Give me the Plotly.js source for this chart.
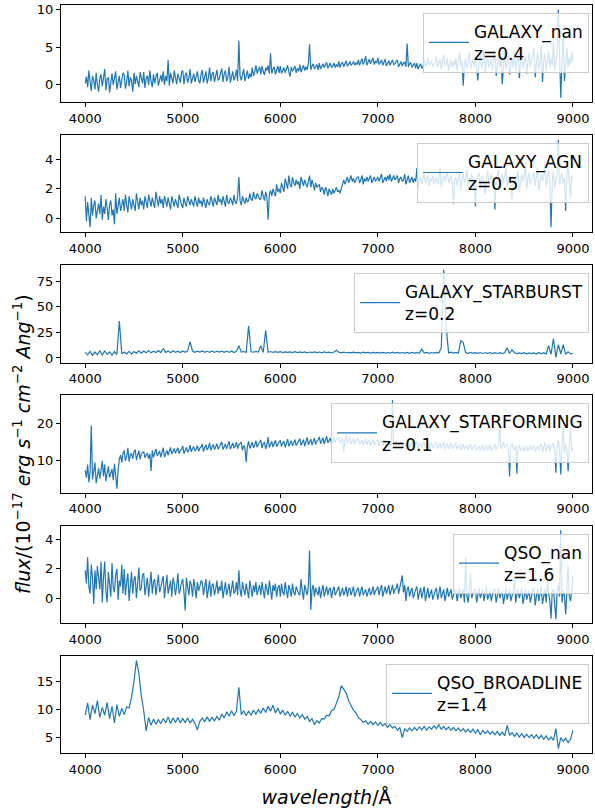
<!DOCTYPE html>
<html>
<head>
<meta charset="utf-8">
<script src="https://cdn.plot.ly/plotly-3.0.1.min.js"></script>
<style>html,body{margin:0;padding:0;background:#fff;}#chart{width:595px;height:808px;}</style>
</head>
<body>
<div id="chart"></div>
<script>
// wavelength grids (Angstrom): start and sampling step of each spectrum
const WL_START = 4000;
const wlSteps = [12.5, 12.5, 25, 12.5, 12.5, 25];
const xTickVals = [4000, 5000, 6000, 7000, 8000, 9000];

const classes = ["GALAXY_nan", "GALAXY_AGN", "GALAXY_STARBURST", "GALAXY_STARFORMING", "QSO_nan", "QSO_BROADLINE"];
const redshifts = ["0.4", "0.5", "0.2", "0.1", "1.6", "1.4"];

const galaxyNan = [
  0.2, 1.1, -0.3, 1.9, 0.4, -0.8, 1.2, 0.6, -0.6, 1.6, 0.0, -0.9, 0.9, 1.4, -0.2, 0.7,
  2.1, -0.7, 0.8, 1.0, -1.0, 0.3, 1.5, 0.0, 1.1, 1.8, -0.6, 0.5, 1.2, -0.4, 0.9, 1.6,
  1.3, -0.5, 0.4, 1.9, -0.2, 1.0, 0.6, -0.9, 1.6, 0.1, 1.2, 0.5, -0.3, 1.7, 0.8, 0.2,
  1.7, -0.4, 0.9, 1.2, 0.0, 1.9, 0.5, -0.3, 1.4, 0.2, 1.1, 1.6, -0.1, 0.8, 1.3, 0.4,
  1.8, 0.0, 1.2, 0.5, 3.3, -0.1, 1.6, 0.9, 0.2, 1.9, 0.6, 0.1, 1.5, 1.0, 0.3, 1.7,
  1.9, 0.1, 1.3, 1.6, 0.3, 0.9, 2.1, 0.2, 1.0, 1.5, 0.4, 1.2, 1.8, 0.6, 0.2, 1.4,
  2.0, 0.3, 1.2, 1.8, 0.2, 0.9, 2.3, 0.5, 1.4, 1.7, 0.4, 1.1, 2.0, 0.6, 0.8, 1.6,
  2.2, 0.4, 1.5, 1.9, 0.5, 1.0, 2.4, 0.3, 1.3, 1.8, 0.6, 1.1, 2.0, 0.5, 5.9, 1.2,
  0.6, 1.6, 2.1, 0.5, 1.3, 1.9, 0.8, 1.5, 1.0, 2.3, 1.2, 1.7, 2.6, 1.5, 2.0, 2.4,
  1.4, 2.5, 1.8, 1.3, 2.3, 1.9, 2.6, 1.5, 4.2, 1.5, 2.1, 2.4, 1.4, 1.9, 2.5, 1.6,
  2.5, 1.5, 2.0, 2.3, 1.6, 2.2, 2.6, 1.7, 1.1, 2.4, 1.8, 2.1, 2.5, 1.6, 2.2, 1.8,
  2.7, 1.7, 2.3, 2.6, 1.9, 2.4, 2.0, 2.8, 5.4, 2.0, 2.5, 2.8, 2.1, 2.4, 2.7, 2.0,
  2.9, 2.1, 2.6, 2.8, 2.3, 2.7, 3.0, 2.2, 2.6, 2.9, 2.3, 2.5, 2.9, 2.3, 2.7, 2.4,
  3.1, 2.3, 2.8, 3.0, 2.4, 2.9, 3.2, 2.5, 2.7, 3.1, 2.6, 2.8, 3.1, 2.6, 2.9, 2.7,
  3.3, 2.6, 3.0, 3.5, 2.7, 3.1, 3.8, 2.6, 3.0, 3.4, 2.8, 3.2, 3.6, 2.7, 3.1, 2.9,
  3.6, 2.7, 3.1, 3.3, 2.6, 3.0, 3.4, 2.5, 2.9, 3.2, 2.6, 3.0, 3.3, 2.7, 2.8, 3.1,
  3.3, 2.4, 2.8, 3.1, 2.5, 2.9, 3.0, 2.4, 5.5, 2.4, 2.8, 3.0, 2.3, 2.7, 2.9, 2.2,
  2.9, 2.1, 2.5, 2.8, 2.2, 2.4, 3.3, 2.5, 2.7, 3.6, 2.6, 2.9, 3.2, 2.4, 2.8, 3.0,
  3.8, 2.4, 2.9, 3.4, 2.2, 3.0, 4.0, 2.6, 2.8, 3.5, 1.9, 2.7, 3.3, 2.3, 3.1, 2.6,
  3.6, 1.8, 3.0, 4.3, 2.5, 3.2, -0.1, 2.9, 3.5, 2.2, 3.0, 4.4, 2.1, 2.8, 3.4, 2.4,
  3.7, 2.3, 0.6, 3.1, 4.0, 2.2, 2.9, 4.6, 1.6, 3.0, 3.8, 2.3, 2.7, 3.5, 2.0, 3.2,
  4.3, 1.2, 3.0, 3.7, 2.4, 3.3, 0.1, 2.9, 4.4, 2.1, 3.1, 3.9, 1.4, 2.8, 3.6, 2.2,
  4.6, 1.9, 3.2, 4.2, 0.9, 3.0, 5.0, 2.2, 3.4, 3.9, 1.5, 2.9, 4.3, 2.4, 3.1, 3.7,
  4.8, 1.0, 3.3, 4.4, 2.1, 3.0, 5.2, 0.4, 3.2, 4.1, 1.8, 2.9, 4.5, 2.3, 3.5, 2.6,
  5.8, 2.0, 3.4, 4.0, 10.0, 2.5, -1.7, 3.1, 6.7, 0.5, 3.3, 4.9, 2.3, 3.6, 2.7, 4.4,
  3.0
];

const galaxyAgn = [
  1.5, -0.2, 1.1, 0.4, -0.6, 1.4, 0.2, 0.9, 1.2, 0.0, 0.6, 1.0, 0.3, 1.6, -0.1, 0.8,
  0.3, 1.3, 0.7, -0.1, 0.9, 1.2, 0.2, 0.6, -0.4, 1.7, 0.3, 1.0, 1.4, 0.5, 0.9, 1.3,
  0.5, 1.6, 0.9, 0.4, 1.5, 1.1, 0.6, 1.3, 0.8, 0.5, 1.7, 1.0, 0.6, 1.4, 0.9, 1.2,
  0.6, 1.5, 1.0, 0.7, 1.6, 1.2, 0.8, 1.4, 0.9, 0.7, 1.8, 1.1, 0.8, 1.5, 1.0, 1.3,
  0.7, 1.5, 1.1, 0.8, 1.4, 1.0, 0.6, 1.5, 1.2, 0.8, 1.3, 1.0, 0.7, 1.6, 1.1, 0.9,
  0.7, 1.4, 1.0, 0.8, 1.5, 1.1, 0.9, 1.3, 1.0, 0.8, 1.5, 1.2, 0.8, 1.4, 1.0, 1.2,
  0.8, 1.4, 1.1, 0.7, 1.3, 1.0, 0.9, 1.5, 1.2, 0.8, 1.4, 1.1, 0.9, 1.6, 1.1, 1.3,
  0.9, 1.5, 1.2, 0.8, 1.6, 1.1, 1.0, 1.4, 1.2, 0.9, 1.6, 1.1, 1.0, 1.5, 2.8, 1.2,
  0.9, 1.5, 1.2, 1.0, 1.4, 1.1, 1.2, 1.7, 1.3, 1.2, 1.8, 1.4, 1.3, 1.7, 1.5, 1.3,
  1.3, 1.9, 1.5, 1.2, 1.8, 1.4, -0.1, 1.6, 1.9, 1.5, 2.0, 1.7, 1.5, 2.3, 1.8, 2.0,
  1.7, 2.4, 2.0, 1.8, 2.7, 2.2, 2.0, 2.9, 2.3, 2.1, 2.8, 2.4, 2.2, 2.6, 2.3, 2.5,
  2.0, 2.8, 2.4, 2.2, 2.6, 2.3, 2.1, 2.5, 2.9, 2.1, 2.6, 2.3, 1.9, 2.4, 2.1, 2.2,
  2.3, 1.8, 2.1, 2.0, 1.6, 2.1, 1.9, 1.5, 2.0, 1.8, 1.6, 2.0, 1.7, 1.9, 2.1, 1.8,
  1.9, 1.7, 2.0, 2.3, 2.6, 2.3, 2.5, 2.8, 2.4, 2.6, 2.9, 2.5, 2.7, 2.4, 2.6, 2.8,
  2.8, 2.4, 2.6, 2.9, 2.3, 2.7, 2.5, 2.8, 2.5, 2.7, 2.9, 2.4, 2.6, 2.8, 2.5, 2.7,
  2.8, 2.5, 2.7, 3.0, 2.4, 2.6, 2.8, 2.5, 2.9, 2.6, 3.0, 2.5, 2.7, 2.9, 2.6, 2.8,
  2.9, 2.4, 2.7, 2.8, 2.5, 2.6, 3.0, 2.3, 2.7, 2.9, 2.4, 2.6, 2.8, 2.4, 2.7, 2.5,
  3.4, 2.0, 2.6, 2.8, 2.3, 2.7, 3.0, 2.4, 2.6, 2.9, 2.2, 2.7, 2.5, 2.9, 2.3, 2.6,
  2.8, 2.3, 2.7, 3.4, 2.1, 2.6, 2.9, 2.5, 2.8, 3.1, 2.4, 2.7, 2.9, 2.3, 1.0, 2.6,
  2.8, 2.2, 2.6, 3.2, 1.9, 2.7, 3.0, 2.4, 2.6, 3.3, 2.1, 2.8, 2.5, 3.0, 2.2, 2.7,
  0.8, 2.6, 2.9, 3.1, 2.0, 2.7, 2.9, 2.3, 1.6, 2.8, 3.2, 2.3, 2.6, 3.0, 2.2, 2.7,
  0.6, 2.7, 3.0, 3.3, 2.1, 2.6, 3.0, 2.4, 2.8, 3.4, 2.2, 2.7, 2.9, 2.3, 1.3, 2.6,
  2.9, 2.2, 2.7, 3.2, 1.8, 2.6, 3.0, 2.5, 2.8, 3.6, 2.0, 2.7, 3.1, 2.3, 2.6, 2.9,
  3.1, 2.2, 2.7, 3.4, 1.9, 2.6, 3.0, 2.5, 2.8, 3.8, 2.1, 2.7, 3.2, 2.4, -0.6, 2.6,
  3.2, 2.1, 2.7, 3.0, 5.3, 2.3, 2.8, 3.1, 2.4, 2.7, 0.5, 3.0, 3.5, 2.2, 1.4, 2.9,
  2.8
];

const galaxyStarburst = [
  5.5, 3.0, 6.5, 2.5, 5.8, 3.2, 7.0, 2.8,
  6.8, 3.5, 5.9, 2.6, 6.2, 3.4, 36.0, 4.0,
  5.8, 4.0, 6.5, 3.8, 6.2, 4.5, 7.0, 4.6,
  6.8, 5.2, 7.2, 5.0, 6.6, 5.4, 7.3, 5.3,
  9.0, 5.5, 6.8, 5.2, 7.0, 5.6, 6.7, 5.4,
  6.9, 5.6, 7.0, 16.0, 6.8, 5.5, 6.6, 5.7,
  6.9, 5.5, 6.5, 5.6, 6.8, 5.4, 6.6, 5.8,
  6.7, 5.5, 6.5, 5.6, 6.8, 5.3, 6.4, 12.0,
  5.8, 6.3, 5.5, 31.0, 6.0, 5.6, 6.4, 5.7,
  12.0, 5.5, 27.0, 5.6, 6.3, 5.4, 6.2, 5.5,
  6.1, 5.3, 6.0, 5.4, 5.9, 5.2, 6.1, 5.3,
  5.9, 5.2, 6.0, 5.1, 5.8, 5.3, 5.9, 5.2,
  5.8, 5.0, 5.9, 5.2, 5.7, 5.0, 5.8, 7.5,
  5.6, 5.0, 5.7, 5.1, 5.5, 4.9, 5.6, 5.0,
  5.5, 4.8, 5.6, 4.9, 5.4, 4.8, 5.5, 4.9,
  5.4, 4.7, 5.5, 4.8, 5.3, 4.7, 5.6, 4.8,
  5.4, 4.7, 5.3, 4.8, 5.5, 4.6, 5.4, 4.8,
  5.3, 4.6, 8.5, 4.7, 5.4, 4.6, 5.3, 4.7,
  5.5, 4.8, 10.0, 86.0, 31.0, 4.9, 5.6, 4.7,
  5.5, 4.6, 17.0, 15.0, 5.2, 4.6, 5.4, 4.5,
  5.2, 4.5, 5.3, 4.4, 5.1, 4.5, 5.3, 4.3,
  5.1, 4.4, 5.2, 4.3, 5.0, 10.0, 4.4, 8.0,
  5.1, 4.2, 5.0, 4.3, 5.2, 4.1, 5.0, 4.2,
  4.9, 3.9, 5.4, 4.0, 5.1, 3.8, 12.0, 3.5,
  19.0, 0.5, 13.0, 3.9, 13.0, 3.6, 6.0, 4.0,
  4.6
];

const galaxyStarforming = [
  7.5, 5.5, 9.0, 4.2, 6.8, 19.5, 5.0, 8.2, 9.5, 4.0, 6.5, 8.0, 5.2, 7.4, 10.0, 5.8,
  9.0, 4.5, 7.2, 8.5, 5.5, 6.9, 7.8, 4.8, 9.2, 6.0, 2.5, 7.5, 10.5, 11.5, 9.5, 12.0,
  12.8, 10.0, 11.2, 13.5, 9.8, 11.6, 12.0, 10.5, 12.4, 13.0, 10.2, 11.5, 12.7, 10.4, 11.9, 12.2,
  12.5, 10.8, 11.7, 12.0, 10.6, 11.9, 7.3, 12.8, 10.9, 12.1, 13.2, 11.3, 12.0, 12.6, 11.0, 12.4,
  13.5, 11.0, 12.3, 12.8, 11.5, 12.6, 13.6, 11.8, 12.4, 13.3, 12.0, 12.7, 13.5, 11.9, 12.8, 13.1,
  14.0, 11.9, 13.0, 13.6, 12.3, 12.9, 14.2, 12.4, 13.3, 13.8, 12.6, 13.1, 14.1, 12.5, 13.4, 13.7,
  14.5, 12.5, 13.6, 14.3, 12.9, 13.5, 14.8, 12.8, 13.7, 14.4, 13.0, 13.6, 14.6, 13.1, 13.9, 14.2,
  15.1, 13.0, 14.0, 14.5, 13.2, 14.1, 15.3, 13.1, 14.2, 14.8, 13.4, 13.9, 15.0, 13.3, 14.3, 14.6,
  15.0, 12.8, 14.1, 13.6, 9.6, 13.9, 15.2, 13.3, 14.4, 15.0, 13.5, 14.2, 15.4, 13.6, 14.5, 14.9,
  15.6, 13.4, 14.6, 15.0, 13.2, 14.3, 16.4, 13.6, 14.7, 15.2, 13.7, 14.4, 15.5, 13.8, 14.6, 15.1,
  15.5, 13.8, 14.8, 15.2, 13.6, 14.6, 15.8, 13.9, 14.9, 15.4, 14.0, 14.7, 15.7, 14.1, 14.9, 15.3,
  16.0, 14.1, 15.0, 15.7, 13.9, 15.1, 16.3, 14.3, 15.2, 15.8, 14.2, 15.0, 16.1, 14.4, 15.3, 15.6,
  16.4, 14.6, 15.5, 16.2, 14.5, 15.4, 16.6, 14.8, 15.7, 16.1, 14.6, 15.5, 16.5, 14.9, 15.8, 16.0,
  16.3, 14.7, 15.6, 15.9, 12.5, 15.2, 16.9, 14.6, 15.5, 16.2, 14.5, 15.3, 16.0, 14.6, 15.4, 15.8,
  15.8, 14.4, 15.1, 15.6, 14.2, 15.0, 15.9, 14.3, 15.2, 15.5, 14.1, 14.9, 15.8, 14.2, 15.0, 15.4,
  15.7, 14.0, 14.9, 15.3, 14.1, 14.8, 15.6, 13.8, 14.7, 15.2, 13.9, 14.6, 26.3, 13.9, 14.8, 15.1,
  15.2, 13.9, 14.6, 15.3, 13.7, 14.5, 15.0, 13.6, 14.4, 15.4, 13.5, 14.3, 15.1, 13.6, 14.5, 14.9,
  15.1, 13.4, 14.3, 14.9, 13.6, 14.2, 15.2, 13.5, 14.4, 14.8, 13.3, 14.1, 15.0, 13.4, 14.2, 14.7,
  14.9, 13.2, 14.1, 14.7, 13.4, 14.0, 15.0, 13.1, 14.2, 14.6, 13.2, 13.9, 14.8, 13.2, 14.0, 14.5,
  14.6, 13.0, 13.9, 14.4, 12.8, 13.7, 14.5, 13.1, 13.8, 14.3, 12.9, 13.6, 14.5, 12.9, 13.8, 14.2,
  14.2, 12.8, 13.5, 14.0, 12.9, 13.6, 14.4, 12.6, 13.4, 14.1, 12.8, 13.5, 14.3, 12.7, 13.6, 14.0,
  14.5, 13.0, 13.8, 14.1, 20.0, 13.2, 14.2, 15.0, 13.4, 14.0, 14.6, 13.1, 5.8, 14.2, 14.6, 13.3,
  13.0, 14.0, 6.5, 13.6, 14.2, 12.7, 13.5, 13.8, 12.5, 13.4, 14.0, 12.6, 13.5, 14.1, 12.8, 13.7,
  14.3, 12.4, 13.4, 14.0, 12.8, 13.6, 14.6, 12.3, 13.5, 15.0, 12.5, 13.8, 14.5, 12.6, 13.9, 14.3,
  14.8, 12.9, 6.8, 14.0, 15.5, 13.0, 6.3, 14.2, 19.0, 12.0, 14.5, 13.3, 7.2, 14.0, 18.7, 12.6,
  13.5
];

const qsoNan = [
  1.9, 1.0, 2.8, 0.8, 0.3, 2.3, 1.4, -0.4, 1.9, 0.6, 2.2, 1.1, 0.6, 2.5, -0.3, 1.4,
  2.5, 0.5, -0.3, 1.8, 1.0, 0.1, 2.4, 0.7, 0.4, 1.6, 2.0, -0.1, 1.2, 0.8, 2.3, 0.3,
  2.0, 0.2, 1.1, 1.7, -0.2, 0.9, 1.8, 0.3, 1.3, 1.5, 0.0, 1.0, 2.1, 0.5, 0.7, 1.6,
  1.7, 0.2, 1.0, 1.4, 0.1, 0.8, 1.8, 0.3, 1.1, 1.3, 0.2, 0.9, 1.6, 0.4, 0.7, 1.2,
  1.5, 0.0, 0.9, 1.6, 0.3, 0.7, 1.2, 0.1, 1.4, 1.0, 0.2, 0.8, 1.7, 0.3, 0.6, 1.1,
  1.3, 0.4, -0.85, 1.4, 0.6, 0.2, 1.2, 0.9, 0.1, 1.3, 0.7, 0.0, 1.1, 0.5, 0.8, 1.2,
  1.1, 0.2, 0.8, 1.3, 0.0, 0.7, 1.2, 0.1, 0.9, 1.0, 0.2, 0.6, 1.2, 0.3, 0.8, 0.5,
  1.2, 0.0, 0.7, 1.1, 0.2, 0.6, 1.0, 0.1, 0.8, 1.2, 0.3, 0.5, 1.1, 0.2, 1.9, 0.6,
  0.1, 1.1, 0.6, 0.2, 1.0, 0.5, 0.0, 1.2, 0.7, 0.1, 0.9, 0.4, 1.1, 0.2, 0.6, 0.9,
  0.2, 1.1, 0.5, 0.0, 1.0, 0.6, 0.2, 1.2, 0.4, -0.1, 0.9, 0.5, 1.0, 0.1, 0.7, 0.9,
  0.1, 1.0, 0.4, 0.2, 1.1, 0.5, 0.0, 0.9, 0.6, 0.1, 1.0, 0.4, 0.2, 0.8, 0.5, 0.3,
  0.2, 1.3, 0.5, -0.1, 0.9, 0.4, 0.2, 0.8, 3.25, -0.8, 0.6, 0.9, 0.1, 0.7, 0.4, 0.2,
  0.8, 0.0, 0.5, 0.9, 0.1, 0.4, 0.8, 0.2, 0.6, 0.7, 0.0, 0.5, 0.8, 0.2, 0.4, 0.6,
  0.8, 0.1, 0.5, 0.7, 0.2, 0.4, 0.8, 0.1, 0.6, 0.7, 0.2, 0.5, 0.8, 0.1, 0.4, 0.6,
  0.7, 0.1, 0.5, 0.8, 0.2, 0.4, 0.6, 0.1, 0.5, 0.7, 0.2, 0.4, 0.8, 0.2, 0.5, 0.6,
  0.8, 0.2, 0.6, 0.9, 0.1, 0.5, 0.8, 0.3, 0.6, 0.9, 0.2, 0.5, 0.9, 0.3, 0.6, 0.7,
  1.0, 0.3, 0.7, 1.2, 1.55, 0.4, 0.9, -0.2, 0.6, 0.8, 0.1, 0.5, 0.7, 0.0, 0.4, 0.6,
  0.8, -0.1, 0.4, 0.7, 0.0, 0.5, 0.8, -0.2, 0.3, 0.7, 0.0, 0.4, 0.6, -0.1, 0.3, 0.5,
  0.7, -0.1, 0.3, 0.8, 0.0, 0.4, 0.6, -0.2, 0.3, 0.7, 0.1, 0.4, 0.6, -0.1, 0.3, 0.5,
  0.6, -0.2, 0.3, 0.7, 0.0, 0.4, 0.6, -0.3, 2.8, 0.2, -0.3, 0.5, 1.7, 0.0, 0.3, 0.6,
  0.6, -0.3, 0.2, 0.7, 0.0, 0.3, 0.6, -0.2, 0.2, 0.8, -0.1, 0.3, 0.5, -0.2, 0.2, 0.6,
  0.6, -0.3, 0.2, 0.7, 0.0, 0.3, 0.5, -0.4, 0.2, 0.7, -0.1, 0.3, 0.6, -0.2, 0.1, 0.5,
  1.4, -0.3, 0.2, 0.6, 0.0, 0.3, 0.7, -0.4, 0.1, 0.6, -0.1, 0.3, 0.5, -0.3, 0.2, 0.6,
  0.7, -0.5, 0.1, 0.6, -0.2, 0.3, 0.8, -0.4, 0.2, 0.6, -0.3, 1.2, 0.4, -0.2, -1.4, 0.5,
  0.6, -0.2, -1.45, 0.4, 0.9, 0.1, 4.65, -0.3, 0.5, 0.2, -1.1, 0.4, 2.2, 0.1, -0.2, 0.6,
  1.5
];

const qsoBroadline = [
  9.0, 11.2, 8.2, 10.8, 9.3, 11.6, 8.6, 10.4,
  9.0, 11.3, 8.4, 10.6, 7.6, 10.9, 8.8, 10.2,
  9.1, 10.5, 10.3, 12.2, 15.0, 18.8, 16.5, 12.5,
  9.8, 6.2, 8.6, 7.2, 8.3, 7.4, 8.2, 7.5,
  8.4, 7.6, 8.7, 7.5, 8.5, 7.7, 8.6, 7.6,
  8.4, 7.7, 8.5, 7.6, 8.3, 7.5, 6.4, 7.9,
  8.5, 7.8, 8.7, 7.9, 8.6, 8.0, 8.8, 8.1,
  9.2, 8.5, 9.6, 8.8, 9.8, 8.9, 9.7, 14.0,
  9.1, 9.8, 8.9, 9.7, 9.0, 9.9, 9.2, 10.0,
  9.4, 10.3, 9.5, 10.6, 9.7, 10.8, 9.4, 10.3,
  9.2, 9.9, 9.0, 9.7, 8.8, 9.5, 8.7, 9.3,
  8.5, 9.1, 8.3, 8.8, 7.9, 8.4, 7.3, 8.0,
  7.6, 8.4, 8.3, 9.0, 8.9, 9.8, 10.0, 11.3,
  12.3, 14.3, 13.6, 13.0, 11.6, 10.8, 9.9, 9.4,
  8.6, 8.2, 7.7, 8.0, 7.4, 7.9, 7.3, 7.8,
  7.2, 7.7, 7.1, 7.5, 6.8, 7.3, 6.7, 7.0,
  6.3, 6.8, 5.0, 6.6, 6.1, 6.7, 6.2, 6.8,
  6.3, 6.9, 6.4, 7.0, 6.3, 6.9, 6.5, 7.1,
  6.6, 7.3, 6.5, 7.0, 6.4, 6.9, 6.3, 6.8,
  6.2, 6.7, 6.1, 6.6, 6.0, 6.5, 5.9, 6.5,
  5.8, 6.4, 5.5, 6.3, 5.7, 6.2, 5.6, 6.1,
  5.5, 6.1, 5.4, 6.0, 5.3, 7.2, 5.4, 5.9,
  5.2, 5.8, 5.1, 5.7, 5.0, 5.6, 5.0, 5.5,
  4.9, 5.5, 4.8, 5.4, 4.7, 5.3, 4.6, 5.1,
  4.5, 6.6, 3.0, 5.0, 4.3, 4.9, 4.1, 4.7,
  6.3
];

const spectra = [galaxyNan, galaxyAgn, galaxyStarburst, galaxyStarforming, qsoNan, qsoBroadline];

// ---------- layout (positions/styles only) ----------
const W = 595, H = 808;
const M = {l: 61, r: 3, t: 5, b: 54};
const plotH = H - M.t - M.b;
const panelTop0 = 4.7, panelStep = 130.2, panelH = 97.5;
const yRanges = [[-2.3, 10.6], [-0.95, 5.65], [-4.5, 90.5], [1.4, 27.6], [-1.7, 4.97], [2.2, 19.65]];
const yDticks = [5, 2, 25, 10, 2, 5];
const xRange = [3752, 9195];
const FONT = "DejaVu Sans, Liberation Sans, sans-serif";
const toPaper = px => (H - M.b - px) / plotH;

const traces = [];
const layout = {
  width: W, height: H,
  margin: M,
  paper_bgcolor: "#fff", plot_bgcolor: "#fff",
  font: {family: FONT, size: 13, color: "#000"},
  showlegend: true,
  annotations: []
};

spectra.forEach((ys, k) => {
  const n = k + 1;
  const sfx = n === 1 ? "" : String(n);
  const top = panelTop0 + k * panelStep;
  traces.push({
    type: "scatter", mode: "lines",
    x0: WL_START, dx: wlSteps[k], y: ys,
    xaxis: "x" + sfx, yaxis: "y" + sfx,
    legend: "legend" + sfx,
    name: classes[k] + "<br>z=" + redshifts[k],
    line: {color: "#1f77b4", width: 1.2},
    hoverinfo: "skip"
  });
  layout["xaxis" + sfx] = {
    domain: [0, 1], anchor: "y" + sfx,
    range: xRange, tickvals: xTickVals, ticktext: xTickVals.map(String),
    showgrid: false, zeroline: false,
    showline: true, linecolor: "#000", linewidth: 1, mirror: true,
    ticks: "outside", ticklen: 4, tickwidth: 1, tickcolor: "#000",
    tickfont: {family: FONT, size: 13, color: "#000"}
  };
  layout["yaxis" + sfx] = {
    domain: [toPaper(top + panelH), toPaper(top)], anchor: "x" + sfx,
    range: yRanges[k], dtick: yDticks[k], tick0: 0,
    showgrid: false, zeroline: false,
    showline: true, linecolor: "#000", linewidth: 1, mirror: true,
    ticks: "outside", ticklen: 4, tickwidth: 1, tickcolor: "#000",
    tickfont: {family: FONT, size: 13, color: "#000"}
  };
  layout["legend" + sfx] = {
    x: (589 - M.l) / (W - M.l - M.r), xanchor: "right",
    y: toPaper(top + 8.0), yanchor: "top",
    bgcolor: "rgba(255,255,255,0.8)", bordercolor: "#cccccc", borderwidth: 1,
    font: {family: FONT, size: 17, color: "#000"},
    itemwidth: 40, valign: "middle", tracegroupgap: 0
  };
});

layout.xaxis6.title = {text: "<i>wavelength</i>/Å", font: {family: FONT, size: 19, color: "#000"}, standoff: 14};

layout.annotations.push({
  xref: "paper", yref: "paper",
  x: (22 - M.l) / (W - M.l - M.r), y: toPaper(444),
  xanchor: "center", yanchor: "middle", textangle: -90, showarrow: false,
  text: "<i>flux</i>/(10<sup>−17</sup> <i>erg s</i><sup>−1</sup> <i>cm</i><sup>−2</sup> <i>Ang</i><sup>−1</sup>)",
  font: {family: FONT, size: 19, color: "#000"}
});

Plotly.newPlot("chart", traces, layout, {staticPlot: true, displayModeBar: false});
</script>
</body>
</html>
